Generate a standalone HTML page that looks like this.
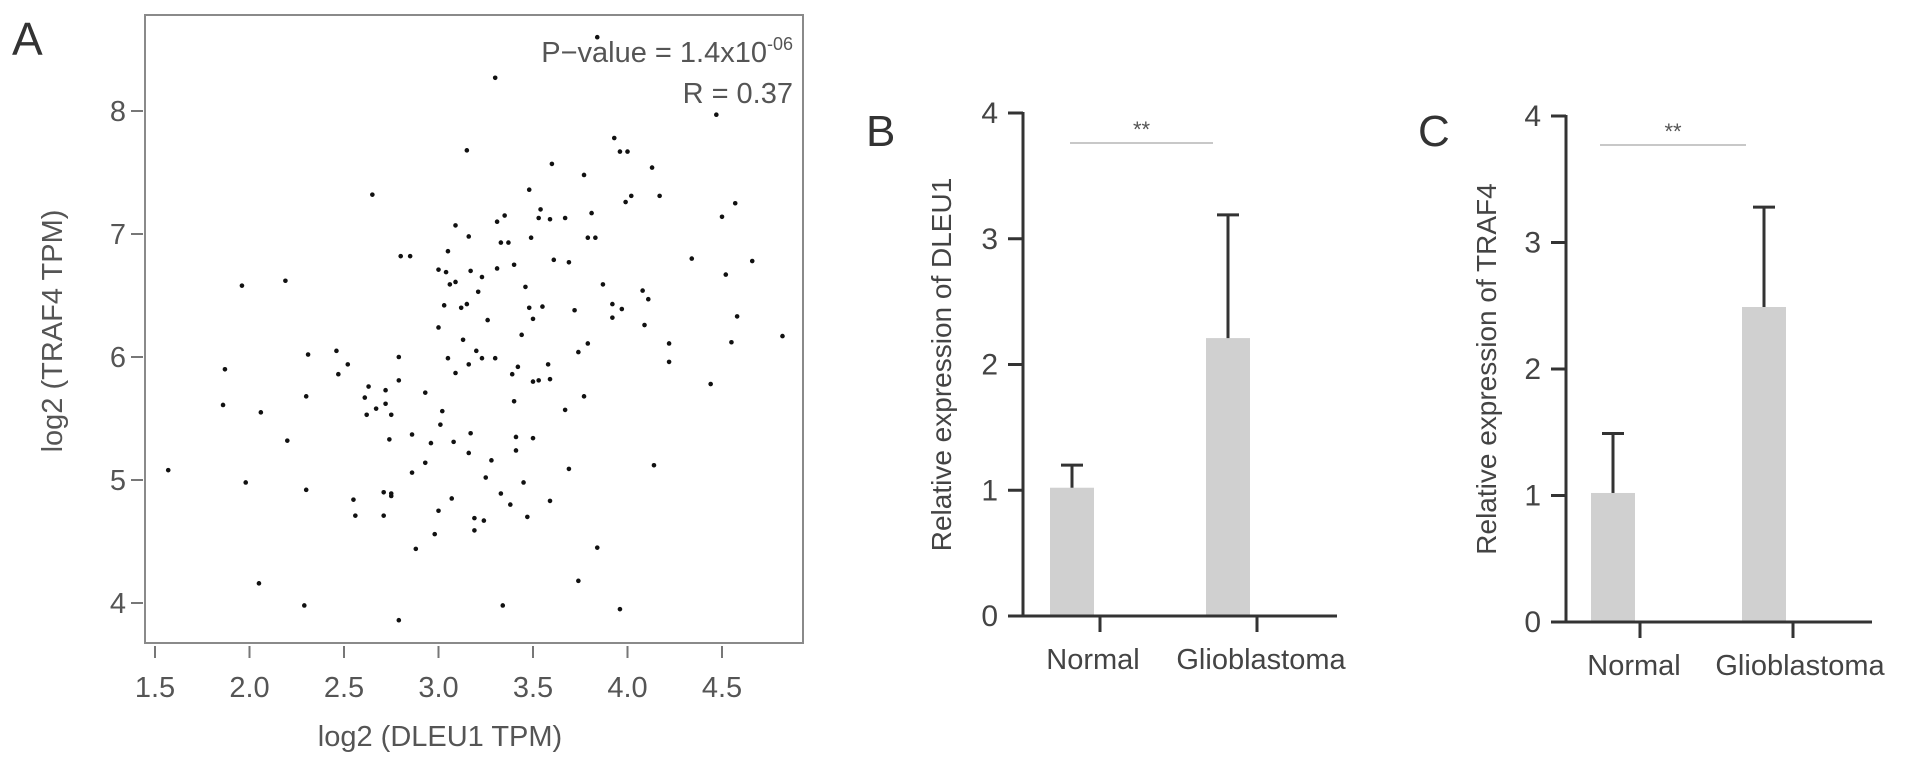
<!DOCTYPE html>
<html><head><meta charset="utf-8"><style>
html,body{margin:0;padding:0;background:#fff;}
svg{display:block;font-family:"Liberation Sans",Arial,sans-serif;}
</style></head><body>
<svg id="fig" width="1913" height="763" viewBox="0 0 1913 763" xmlns="http://www.w3.org/2000/svg">
<text x="12" y="55" font-size="46" fill="#333">A</text>
<g id="scatter"></g>
<g id="barB"></g>
<g id="barC"></g>
</svg>
<script>
const NS="http://www.w3.org/2000/svg";
// ---- scatter data ----
const scatterX=[3.84,3.30,3.15,3.93,3.96,4.00,3.60,4.13,3.77,2.65,3.48,4.02,3.99,4.17,3.31,3.35,3.54,3.53,3.59,3.67,3.81,3.09,3.16,3.49,3.79,3.83,3.33,3.37,2.80,2.85,3.05,3.61,3.69,3.40,3.31,3.00,3.04,3.17,3.23,2.19,1.96,3.09,3.06,3.46,3.87,3.21,4.08,4.11,3.03,3.12,3.15,3.48,3.55,3.92,3.97,3.92,3.50,3.72,3.26,3.00,4.09,3.44,3.13,3.79,3.74,4.22,4.22,2.46,2.31,2.79,3.05,3.20,3.23,3.30,3.16,3.58,3.42,3.39,1.87,2.52,2.47,3.09,3.50,3.53,3.59,2.79,2.63,2.72,2.61,2.93,2.30,3.77,1.86,2.67,2.72,3.02,3.40,3.67,2.06,2.62,2.75,3.01,2.20,2.74,2.86,2.96,3.08,3.17,3.41,3.50,3.41,3.16,4.14,2.93,3.28,3.69,1.57,2.86,3.25,1.98,3.45,2.30,2.71,2.75,2.75,3.33,3.07,2.55,3.59,3.38,3.00,2.56,2.71,3.47,3.19,3.24,3.19,2.98,2.88,3.84,2.05,2.29,2.79,3.34,3.74,3.96,4.47,4.57,4.50,4.34,4.66,4.52,4.55,4.58,4.82,4.44];
const scatterY=[8.60,8.27,7.68,7.78,7.67,7.67,7.57,7.54,7.48,7.32,7.36,7.31,7.26,7.31,7.10,7.15,7.20,7.13,7.12,7.13,7.17,7.07,6.98,6.97,6.97,6.97,6.93,6.93,6.82,6.82,6.86,6.79,6.77,6.75,6.72,6.71,6.69,6.70,6.65,6.62,6.58,6.61,6.59,6.57,6.59,6.53,6.54,6.47,6.42,6.40,6.43,6.40,6.41,6.43,6.39,6.32,6.31,6.38,6.30,6.24,6.26,6.18,6.14,6.11,6.04,6.11,5.96,6.05,6.02,6.00,5.99,6.05,5.99,5.99,5.94,5.94,5.92,5.86,5.90,5.94,5.86,5.87,5.80,5.81,5.82,5.81,5.76,5.73,5.67,5.71,5.68,5.68,5.61,5.58,5.62,5.56,5.64,5.57,5.55,5.53,5.53,5.45,5.32,5.33,5.37,5.30,5.31,5.38,5.35,5.34,5.24,5.22,5.12,5.14,5.16,5.09,5.08,5.06,5.02,4.98,4.98,4.92,4.90,4.87,4.89,4.89,4.85,4.84,4.83,4.80,4.75,4.71,4.71,4.70,4.69,4.67,4.59,4.56,4.44,4.45,4.16,3.98,3.86,3.98,4.18,3.95,7.97,7.25,7.14,6.80,6.78,6.67,6.12,6.33,6.17,5.78];
const xTicks=[1.5,2.0,2.5,3.0,3.5,4.0,4.5];
const yTicks=[4,5,6,7,8];
// ---- bar data ----
const barCats=["Normal","Glioblastoma"];
const dleu1Means=[1.02,2.21];
const dleu1Err=[1.20,3.19];
const traf4Means=[1.02,2.49];
const traf4Err=[1.49,3.28];
const barTicks=[0,1,2,3,4];

function el(tag,attrs,parent,txt){const e=document.createElementNS(NS,tag);for(const k in attrs)e.setAttribute(k,attrs[k]);if(txt!==undefined)e.textContent=txt;parent.appendChild(e);return e;}

// scatter
(function(){
const g=document.getElementById('scatter');
const L=145,T=15,R=803,B=643;
const sx=v=>155+(v-1.5)*189;
const sy=v=>603-(v-4)*123;
const fr=el('rect',{x:L,y:T,width:R-L,height:B-T,fill:'none',stroke:'#8a8a8a','stroke-width':2},g);


xTicks.forEach(v=>{
 const t=el('line',{x1:sx(v),x2:sx(v),y1:646,y2:658,stroke:'#777','stroke-width':2},g);
 
 
 const l=el('text',{x:sx(v),y:697,'font-size':29,fill:'#555','text-anchor':'middle'},g,v.toFixed(1));
 
 
});
yTicks.forEach(v=>{
 const t=el('line',{x1:131,x2:143,y1:sy(v),y2:sy(v),stroke:'#777','stroke-width':2},g);
 
 
 const l=el('text',{x:126,y:sy(v)+10,'font-size':29,fill:'#555','text-anchor':'end'},g,String(v));
 
 
});
scatterX.forEach((x,i)=>{
 const c=el('circle',{cx:sx(x),cy:sy(scatterY[i]),r:2.3,fill:'#111'},g);
 
 
});
const xt=el('text',{x:440,y:746,'font-size':29,fill:'#555','text-anchor':'middle'},g,'log2 (DLEU1 TPM)');


const yt=el('text',{x:0,y:0,'font-size':29,fill:'#555','text-anchor':'middle',transform:'translate(62,331) rotate(-90)'},g,'log2 (TRAF4 TPM)');


const p=el('text',{x:793,y:62,'font-size':29,fill:'#555','text-anchor':'end'},g);


el('tspan',{},p,'P\u2212value = 1.4x10');
el('tspan',{'font-size':18,dy:-12},p,'-06');
const r=el('text',{x:793,y:103,'font-size':29,fill:'#555','text-anchor':'end'},g,'R = 0.37');


})();

function barChart(id,letter,title,means,errs,o){
 const g=document.getElementById(id);
 const ax=o.ax,y0=o.y0,y4=o.y4;
 const sy=v=>y0-(y0-y4)*v/4;
 const lt=el('text',{x:o.lx,y:o.ly,'font-size':44,fill:'#333'},g,letter);
 
 
 means.forEach((m,i)=>{
  const bx=o.bars[i];
  const b=el('rect',{x:bx,y:sy(m),width:44,height:y0-sy(m),fill:'#d0d0d0'},g);
  
  
  const cx=bx+22;
  const e=el('line',{x1:cx,x2:cx,y1:sy(m),y2:sy(errs[i]),stroke:'#333','stroke-width':3},g);
  
  
  const c=el('line',{x1:cx-11,x2:cx+11,y1:sy(errs[i]),y2:sy(errs[i]),stroke:'#333','stroke-width':3},g);
  
  
  const t=el('line',{x1:o.ticks[i],x2:o.ticks[i],y1:y0,y2:y0+16,stroke:'#333','stroke-width':3},g);
  
  
  const l=el('text',{x:o.labx[i],y:y0+53,'font-size':29,fill:'#444','text-anchor':'middle'},g,barCats[i]);
  
  
 });
 const a=el('line',{x1:ax,x2:ax,y1:y4-1,y2:y0+1.5,stroke:'#333','stroke-width':3},g);
 
 
 const xa=el('line',{x1:ax-15,x2:o.xr,y1:y0,y2:y0,stroke:'#333','stroke-width':3},g);
 
 
 barTicks.forEach(v=>{
  const t=el('line',{x1:ax-15,x2:ax,y1:sy(v),y2:sy(v),stroke:'#333','stroke-width':3},g);
  
  
  const l=el('text',{x:ax-25,y:sy(v)+10,'font-size':30,fill:'#444','text-anchor':'end'},g,String(v));
  
  
 });
 const yt=el('text',{x:0,y:0,'font-size':28,fill:'#444','text-anchor':'middle',transform:`translate(${o.tx},${(y0+y4)/2}) rotate(-90)`},g,title);
 
 
 const s=el('line',{x1:o.sig[0],x2:o.sig[1],y1:o.sigy,y2:o.sigy,stroke:'#c8c8c8','stroke-width':2},g);
 
 
 const st=el('text',{x:(o.sig[0]+o.sig[1])/2,y:o.sigy-6,'font-size':22,fill:'#555','text-anchor':'middle'},g,'**');
 
 
}
barChart('barB','B','Relative expression of DLEU1',dleu1Means,dleu1Err,
 {ax:1023,y0:616,y4:113,lx:866,ly:146,bars:[1050,1206],ticks:[1100,1257],labx:[1093,1261],xr:1337,tx:951,sig:[1070,1213],sigy:143});
barChart('barC','C','Relative expression of TRAF4',traf4Means,traf4Err,
 {ax:1566,y0:622,y4:116,lx:1418,ly:146,bars:[1591,1742],ticks:[1640,1793],labx:[1634,1800],xr:1872,tx:1496,sig:[1600,1746],sigy:145});
</script>
</body></html>
